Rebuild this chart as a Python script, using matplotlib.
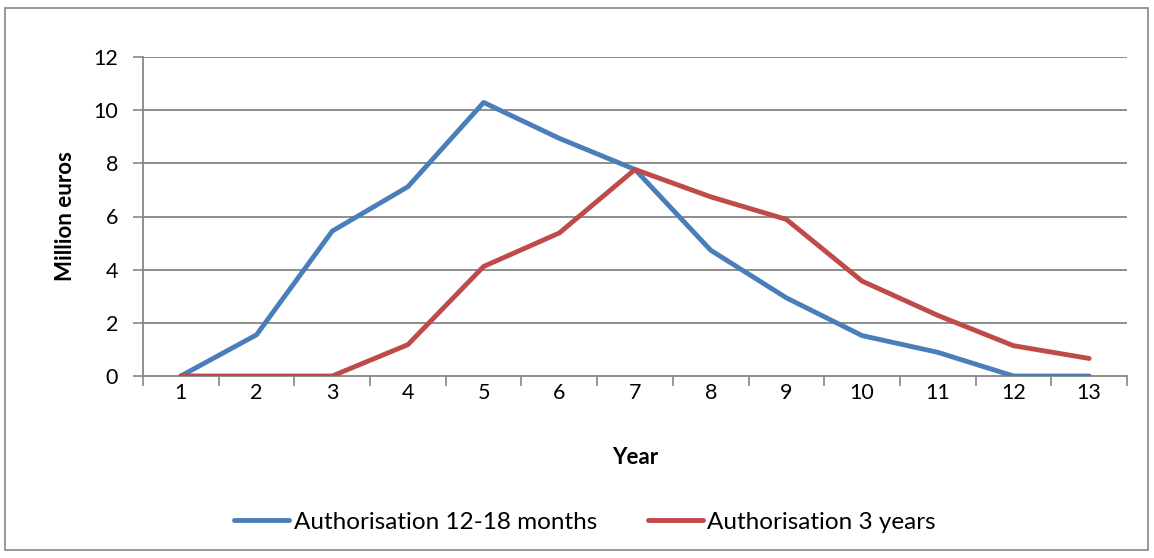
import matplotlib
matplotlib.use("Agg")
import matplotlib.pyplot as plt
from matplotlib.patches import Rectangle

years = [1, 2, 3, 4, 5, 6, 7, 8, 9, 10, 11, 12, 13]
auth_12_18 = [0, 1.55, 5.45, 7.12, 10.29, 8.94, 7.77, 4.73, 2.94, 1.52, 0.89, 0, 0]
auth_3y = [0, 0, 0, 1.18, 4.12, 5.38, 7.77, 6.74, 5.89, 3.57, 2.28, 1.14, 0.66]
yticks = [0, 2, 4, 6, 8, 10, 12]

plt.rcParams['font.family'] = ['Lato', 'DejaVu Sans']

fig = plt.figure(figsize=(11.54, 5.58), dpi=100)
fig.patches.append(Rectangle((5/1154, 8/558), 1143/1154, 542/558, transform=fig.transFigure,
                             fill=False, edgecolor='#868686', linewidth=1.2))
ax = fig.add_axes([143/1154, 1-376/558, 984/1154, 319/558])

grid_c = '#868686'
ax.set_xlim(0.5, 13.5)
ax.set_ylim(0, 12)
ax.set_yticks(yticks)
ax.set_xticks(years)
ax.set_xticks([y + 0.5 for y in [0] + years], minor=True)
ax.tick_params(axis='x', which='major', length=0, pad=5, labelsize=15.5)
ax.tick_params(axis='x', which='minor', length=7, width=1.2, color=grid_c, direction='out')
ax.tick_params(axis='y', length=7, width=1.2, color=grid_c, labelsize=15.5, pad=11)
for y in yticks[1:]:
    ax.axhline(y, color=grid_c, linewidth=1.3, zorder=1)
for s in ['top', 'right']:
    ax.spines[s].set_visible(False)
for s in ['left', 'bottom']:
    ax.spines[s].set_color(grid_c)
    ax.spines[s].set_linewidth(1.3)

ax.plot(years, auth_12_18, color='#4A7EBB', linewidth=3.5, solid_capstyle='round',
        solid_joinstyle='round', label='Authorisation 12-18 months', zorder=3)
ax.plot(years, auth_3y, color='#BE4B48', linewidth=3.5, solid_capstyle='round',
        solid_joinstyle='round', label='Authorisation 3 years', zorder=3)

ax.set_xlabel('Year', fontsize=16, fontweight='bold')
ax.xaxis.set_label_coords(0.5, -(457-376)/319, transform=ax.transAxes)
ax.set_ylabel('Million euros', fontsize=16, fontweight='bold')
ax.yaxis.set_label_coords(-(143-65)/984, 0.5, transform=ax.transAxes)
ax.yaxis.label.set_verticalalignment('center')
ax.xaxis.label.set_verticalalignment('center')

fig.legend(loc='center', bbox_to_anchor=(585/1154, 1-522/558), ncol=2, frameon=False,
           fontsize=17.5, handlelength=2.26, handletextpad=0.17, columnspacing=2.1)

fig.savefig('out.png', dpi=100)
